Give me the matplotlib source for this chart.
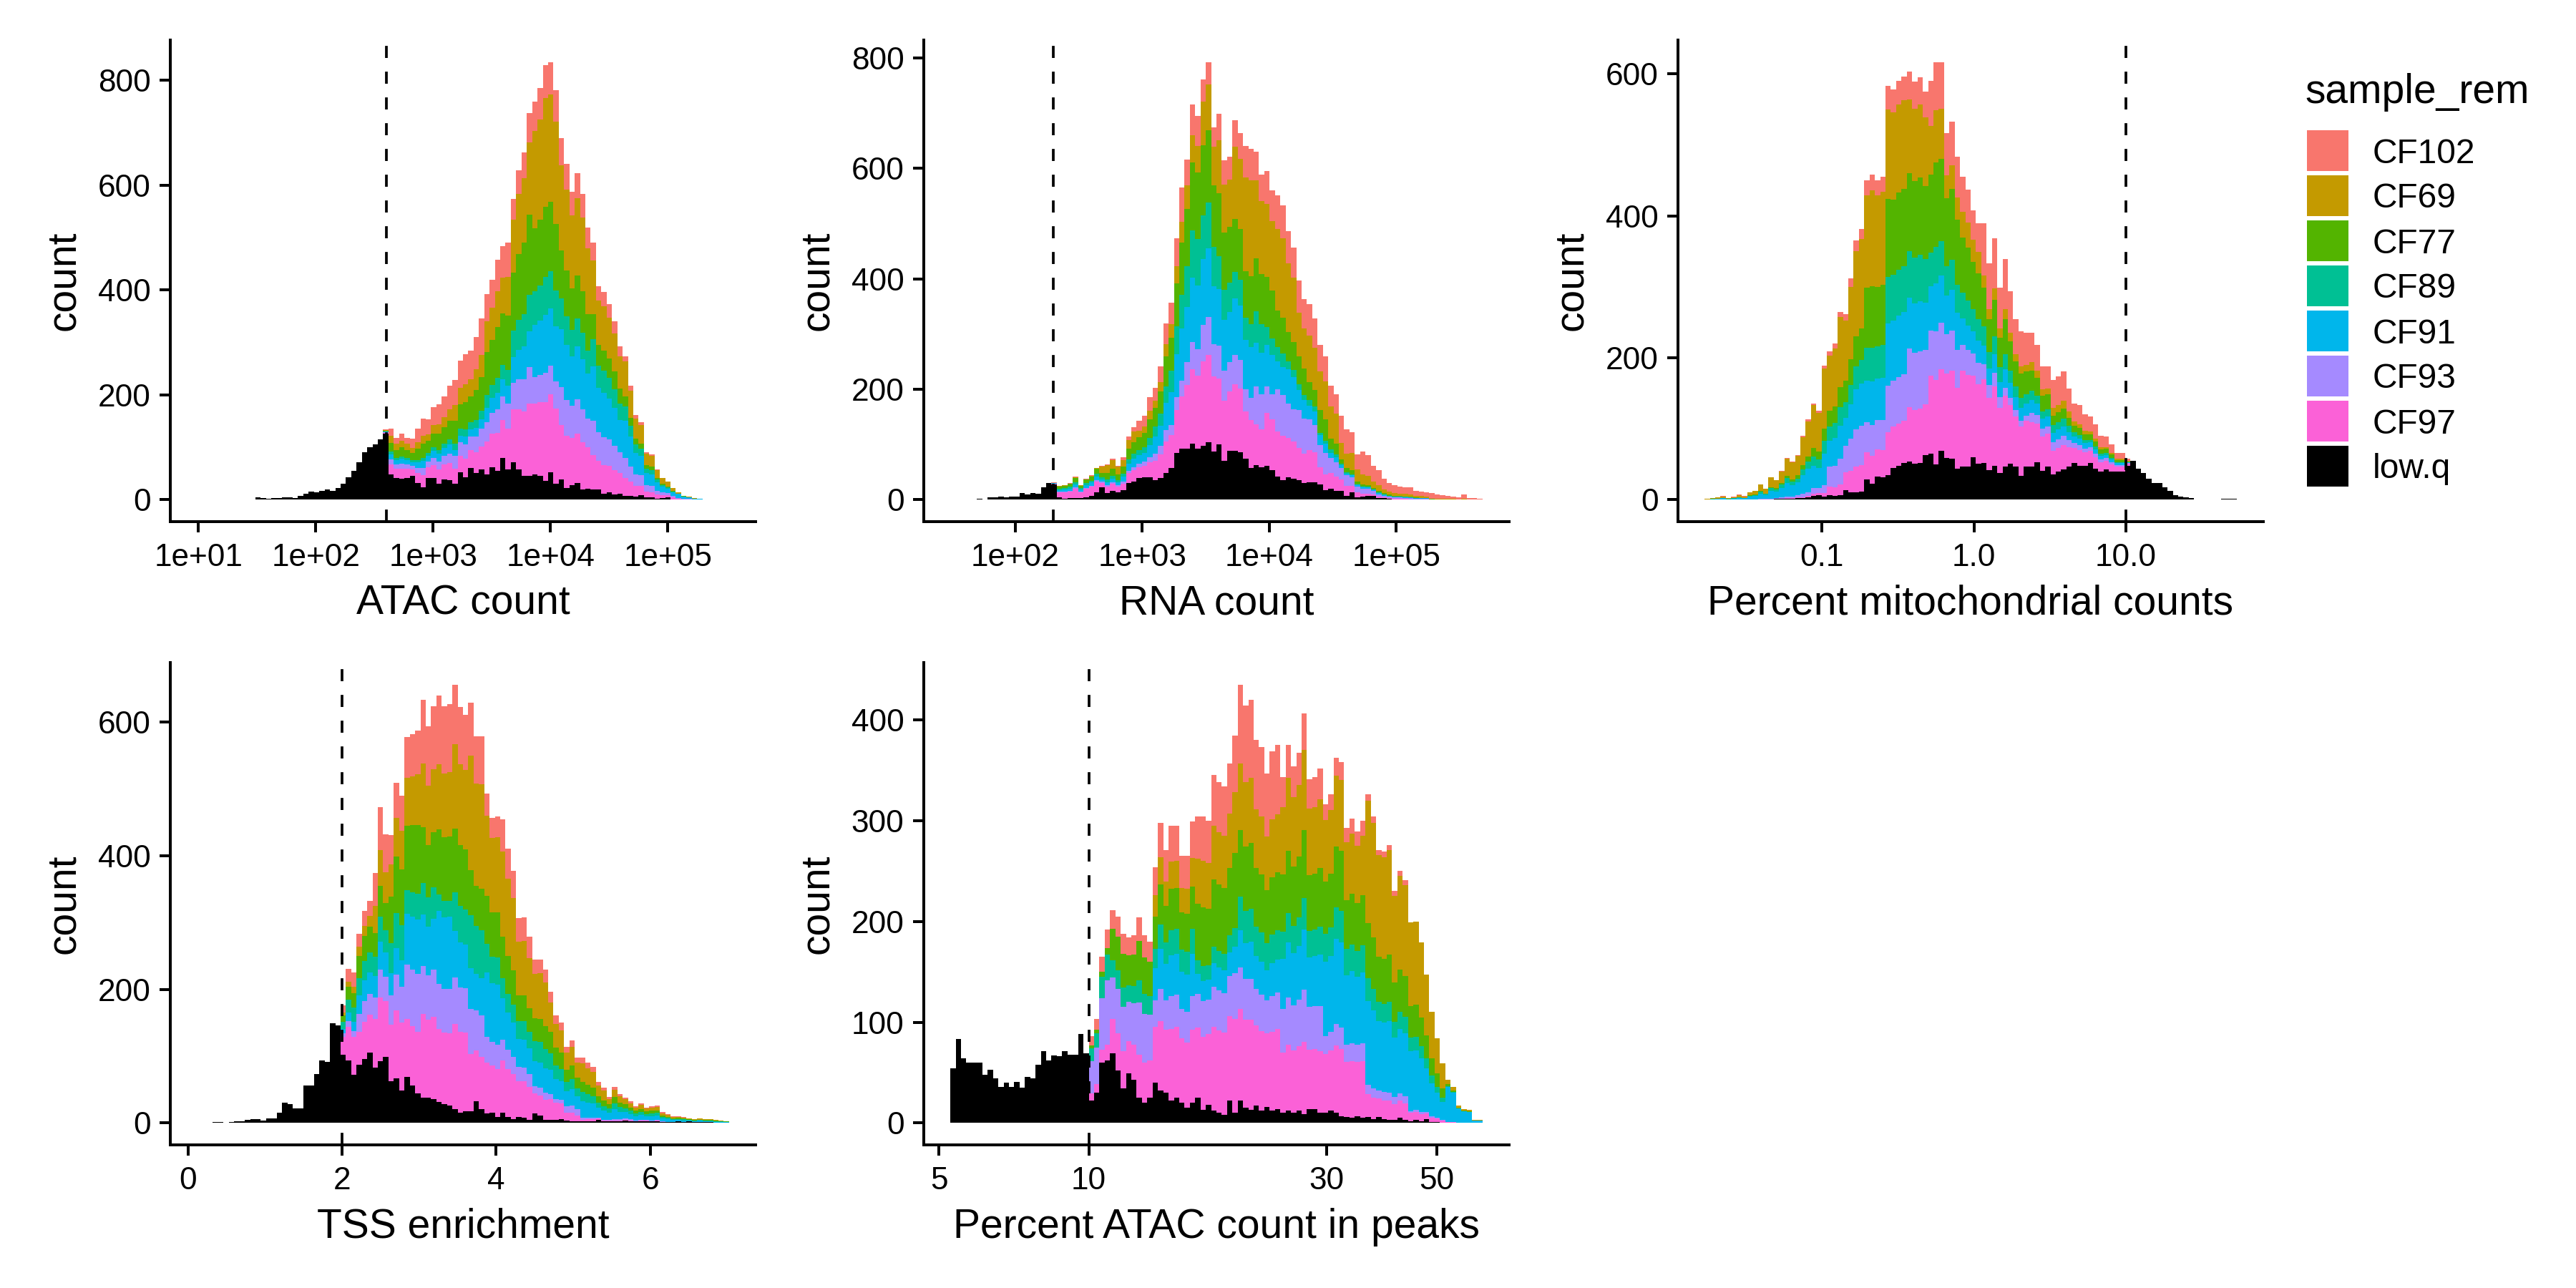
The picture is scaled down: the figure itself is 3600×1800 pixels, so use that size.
import numpy as np
import matplotlib
matplotlib.use("Agg")
import matplotlib.pyplot as plt
from matplotlib.patches import Rectangle
from matplotlib.ticker import NullLocator

plt.rcParams['font.family'] = ['Liberation Sans', 'DejaVu Sans']

# ---------------- categories ----------------
samples = ["CF102", "CF69", "CF77", "CF89", "CF91", "CF93", "CF97", "low.q"]
sample_colors = ["#F8766D", "#C49A00", "#53B400", "#00C094", "#00B6EB",
                 "#A58AFF", "#FB61D7", "#000000"]

# ---------------- ATAC count (log10 bins) ----------------
atac_centers = (1.01, 5.50)          # log10 of first / last bin centre
atac_threshold = 400
atac_total = [1, 0, 0, 0, 0, 0, 0, 0, 1, 1,
              0, 4, 3, 2, 3, 3, 4, 4, 3, 7,
              12, 15, 14, 17, 20, 17, 22, 30, 43, 55,
              72, 90, 100, 105, 115, 134, 135, 118, 126, 118,
              116, 135, 155, 153, 176, 182, 197, 218, 228, 265,
              277, 284, 311, 346, 392, 420, 458, 484, 490, 574,
              629, 663, 737, 760, 785, 829, 835, 781, 690, 641,
              587, 623, 584, 519, 490, 407, 396, 373, 340, 293,
              274, 217, 161, 148, 91, 87, 58, 42, 35, 23,
              14, 8, 6, 3, 2, 1, 1, 1, 1, 1]
atac_lowq = [1, 0, 0, 0, 0, 0, 0, 0, 1, 1,
             0, 4, 3, 2, 3, 3, 4, 4, 3, 7,
             12, 15, 14, 17, 20, 17, 22, 30, 43, 55,
             72, 90, 100, 105, 115, 126, 48, 42, 40, 42,
             45, 32, 24, 42, 42, 30, 39, 37, 30, 52,
             43, 61, 51, 58, 49, 62, 55, 80, 58, 72,
             58, 45, 45, 49, 46, 36, 52, 31, 39, 23,
             28, 32, 20, 21, 19, 20, 12, 14, 10, 12,
             7, 7, 6, 9, 4, 4, 2, 3, 4, 1,
             1, 0, 0, 0, 0, 0, 0, 0, 0, 0]
atac_zone_start = [0, 35, 40, 48, 54, 59, 63, 68, 74, 80, 86, 90]
# shares of the non-low.q cells: CF102, CF69, CF77, CF89, CF91, CF93, CF97
atac_zone_share = [[0.15, 0.15, 0.20, 0.05, 0.12, 0.10, 0.23],
                   [0.15, 0.15, 0.20, 0.05, 0.12, 0.10, 0.23],
                   [0.25, 0.12, 0.20, 0.05, 0.10, 0.10, 0.18],
                   [0.24, 0.15, 0.22, 0.06, 0.06, 0.12, 0.15],
                   [0.15, 0.17, 0.24, 0.07, 0.08, 0.11, 0.18],
                   [0.08, 0.20, 0.22, 0.10, 0.10, 0.10, 0.20],
                   [0.08, 0.26, 0.17, 0.09, 0.14, 0.07, 0.19],
                   [0.08, 0.25, 0.14, 0.09, 0.17, 0.11, 0.16],
                   [0.07, 0.22, 0.10, 0.11, 0.22, 0.14, 0.14],
                   [0.04, 0.25, 0.07, 0.10, 0.27, 0.14, 0.13],
                   [0.02, 0.28, 0.05, 0.08, 0.30, 0.12, 0.15],
                   [0.00, 0.15, 0.03, 0.05, 0.55, 0.12, 0.10]]

# ---------------- RNA count (log10 bins) ----------------
rna_centers = (1.51, 5.658)
rna_threshold = 200
rna_total = [1, 0, 0, 0, 1, 2, 1, 4, 5, 6,
             5, 6, 6, 12, 10, 12, 11, 23, 30, 31,
             25, 27, 30, 42, 27, 38, 44, 58, 61, 64,
             74, 61, 77, 115, 131, 143, 152, 186, 203, 241,
             320, 357, 474, 565, 616, 716, 695, 761, 793, 675,
             699, 615, 622, 688, 664, 641, 636, 630, 589, 595,
             561, 552, 533, 486, 457, 397, 364, 355, 329, 281,
             260, 206, 191, 152, 127, 123, 82, 88, 81, 61,
             54, 38, 30, 27, 24, 22, 22, 16, 15, 14,
             12, 10, 8, 7, 6, 4, 9, 3, 3, 2]
rna_lowq = [1, 0, 0, 0, 1, 2, 1, 4, 5, 6,
            5, 6, 6, 12, 10, 12, 11, 23, 30, 28,
            4, 2, 3, 3, 3, 5, 7, 13, 22, 12,
            16, 13, 17, 30, 33, 39, 41, 41, 35, 40,
            48, 57, 85, 93, 93, 101, 92, 98, 104, 88,
            100, 70, 89, 89, 86, 75, 57, 63, 59, 62,
            54, 42, 36, 41, 38, 36, 30, 32, 32, 28,
            17, 20, 16, 16, 7, 13, 5, 6, 7, 7,
            3, 3, 2, 1, 1, 1, 0, 0, 0, 0,
            0, 0, 0, 0, 0, 0, 0, 0, 0, 0]
rna_zone_start = [0, 19, 28, 32, 35, 38, 41, 44, 47, 50, 53, 55, 57, 59, 61,
                  63, 65, 67, 69, 71, 73, 75, 77, 80, 90]
rna_zone_share = [[0.02, 0.03, 0.20, 0.10, 0.15, 0.05, 0.45],
                  [0.02, 0.03, 0.20, 0.10, 0.15, 0.05, 0.45],
                  [0.03, 0.28, 0.21, 0.10, 0.10, 0.05, 0.23],
                  [0.08, 0.19, 0.22, 0.09, 0.15, 0.06, 0.21],
                  [0.17, 0.11, 0.23, 0.09, 0.15, 0.06, 0.19],
                  [0.14, 0.08, 0.20, 0.11, 0.18, 0.08, 0.21],
                  [0.13, 0.08, 0.20, 0.13, 0.20, 0.06, 0.20],
                  [0.09, 0.08, 0.20, 0.14, 0.19, 0.08, 0.22],
                  [0.06, 0.12, 0.19, 0.12, 0.18, 0.10, 0.23],
                  [0.08, 0.16, 0.19, 0.10, 0.17, 0.10, 0.20],
                  [0.08, 0.22, 0.16, 0.08, 0.17, 0.09, 0.20],
                  [0.10, 0.30, 0.15, 0.07, 0.16, 0.07, 0.15],
                  [0.09, 0.25, 0.17, 0.10, 0.14, 0.12, 0.13],
                  [0.11, 0.25, 0.17, 0.06, 0.14, 0.09, 0.18],
                  [0.12, 0.29, 0.13, 0.05, 0.10, 0.15, 0.16],
                  [0.13, 0.28, 0.12, 0.03, 0.14, 0.14, 0.16],
                  [0.16, 0.22, 0.14, 0.03, 0.10, 0.19, 0.16],
                  [0.18, 0.26, 0.10, 0.03, 0.08, 0.17, 0.18],
                  [0.19, 0.28, 0.16, 0.02, 0.07, 0.16, 0.12],
                  [0.20, 0.31, 0.11, 0.03, 0.05, 0.15, 0.15],
                  [0.36, 0.22, 0.06, 0.02, 0.03, 0.16, 0.15],
                  [0.35, 0.28, 0.07, 0.01, 0.04, 0.14, 0.11],
                  [0.51, 0.22, 0.05, 0.01, 0.04, 0.11, 0.06],
                  [0.55, 0.20, 0.05, 0.02, 0.05, 0.08, 0.05],
                  [0.80, 0.10, 0.02, 0.00, 0.04, 0.04, 0.00]]

# ---------------- Percent mitochondrial counts (log10 bins) ----------------
mito_centers = (-1.7545, 1.7115)
mito_threshold = 10
mito_total = [1, 2, 3, 5, 2, 4, 7, 5, 11, 13,
              22, 16, 32, 28, 41, 59, 54, 63, 90, 113,
              136, 125, 189, 209, 220, 265, 262, 312, 365, 382,
              450, 458, 450, 455, 583, 578, 590, 596, 603, 589,
              595, 575, 590, 617, 617, 517, 533, 483, 455, 437,
              408, 390, 390, 333, 368, 299, 339, 294, 255, 237,
              235, 235, 218, 188, 188, 169, 174, 181, 157, 136,
              134, 120, 117, 106, 90, 89, 78, 66, 66, 58,
              55, 44, 38, 30, 24, 24, 18, 13, 6, 4,
              3, 2, 0, 0, 0, 0, 0, 1, 1, 1]
mito_lowq = [0, 0, 0, 0, 0, 0, 0, 0, 0, 0,
             0, 0, 0, 1, 1, 1, 1, 2, 2, 3,
             5, 6, 4, 6, 5, 6, 14, 11, 11, 12,
             29, 23, 33, 32, 35, 45, 48, 52, 54, 51,
             52, 63, 65, 50, 69, 59, 58, 44, 47, 47,
             60, 51, 52, 42, 48, 38, 47, 51, 47, 34,
             47, 47, 53, 41, 47, 36, 40, 43, 47, 52,
             48, 48, 52, 44, 40, 43, 40, 40, 40, 48,
             55, 44, 38, 30, 24, 24, 18, 13, 6, 4,
             3, 2, 0, 0, 0, 0, 0, 1, 1, 1]
mito_zone_start = [0, 16, 20, 23, 26, 30, 34, 38, 42, 45, 48, 52, 56, 61, 65, 70, 80]
mito_zone_share = [[0.02, 0.42, 0.05, 0.12, 0.33, 0.04, 0.02],
                   [0.02, 0.45, 0.07, 0.09, 0.30, 0.05, 0.02],
                   [0.02, 0.46, 0.09, 0.10, 0.24, 0.06, 0.03],
                   [0.03, 0.38, 0.11, 0.10, 0.18, 0.14, 0.06],
                   [0.04, 0.34, 0.12, 0.09, 0.16, 0.15, 0.10],
                   [0.05, 0.31, 0.20, 0.11, 0.14, 0.10, 0.09],
                   [0.06, 0.23, 0.20, 0.12, 0.16, 0.12, 0.11],
                   [0.07, 0.19, 0.20, 0.12, 0.13, 0.15, 0.14],
                   [0.12, 0.13, 0.21, 0.09, 0.12, 0.12, 0.21],
                   [0.13, 0.07, 0.21, 0.09, 0.12, 0.12, 0.26],
                   [0.12, 0.09, 0.19, 0.09, 0.09, 0.09, 0.33],
                   [0.22, 0.05, 0.16, 0.08, 0.08, 0.06, 0.35],
                   [0.24, 0.05, 0.17, 0.07, 0.09, 0.04, 0.34],
                   [0.22, 0.06, 0.15, 0.07, 0.10, 0.07, 0.33],
                   [0.30, 0.08, 0.10, 0.08, 0.10, 0.09, 0.25],
                   [0.32, 0.06, 0.12, 0.06, 0.10, 0.08, 0.26],
                   [0.32, 0.06, 0.12, 0.06, 0.10, 0.08, 0.26]]

# ---------------- TSS enrichment (linear bins) ----------------
tss_centers = (0.151, 6.986)
tss_threshold = 2
tss_total = [0, 0, 0, 1, 1, 0, 1, 2, 3, 5,
             6, 6, 4, 7, 7, 15, 30, 28, 22, 22,
             56, 56, 73, 94, 91, 149, 146, 176, 231, 225,
             283, 317, 332, 374, 473, 432, 431, 509, 490, 577,
             582, 587, 633, 593, 623, 640, 624, 627, 656, 622,
             611, 629, 579, 579, 493, 457, 459, 454, 410, 377,
             307, 308, 279, 244, 245, 230, 196, 161, 150, 114,
             123, 98, 98, 90, 84, 61, 53, 39, 54, 43,
             38, 32, 25, 29, 23, 25, 26, 16, 13, 10,
             10, 9, 7, 6, 7, 6, 6, 5, 4, 3]
tss_lowq = [0, 0, 0, 1, 1, 0, 1, 2, 3, 5,
            6, 6, 4, 7, 7, 15, 30, 28, 22, 22,
            56, 56, 73, 94, 91, 149, 146, 102, 93, 72,
            87, 96, 105, 83, 92, 99, 62, 67, 49, 69,
            56, 44, 38, 38, 36, 31, 28, 26, 21, 15,
            17, 18, 32, 21, 14, 15, 9, 15, 9, 6,
            9, 8, 5, 14, 11, 5, 5, 5, 6, 4,
            3, 2, 2, 3, 3, 5, 2, 2, 2, 2,
            4, 3, 2, 3, 3, 2, 3, 1, 1, 1,
            2, 1, 2, 1, 1, 1, 1, 0, 0, 0]
tss_zone_start = [0, 27, 30, 33, 36, 39, 42, 45, 48, 51, 54, 57, 60, 63, 66, 69, 72, 77]
tss_zone_share = [[0.14, 0.06, 0.14, 0.14, 0.09, 0.06, 0.37],
                  [0.14, 0.06, 0.14, 0.14, 0.09, 0.06, 0.37],
                  [0.10, 0.07, 0.17, 0.13, 0.14, 0.14, 0.25],
                  [0.17, 0.14, 0.12, 0.10, 0.11, 0.11, 0.25],
                  [0.12, 0.13, 0.19, 0.12, 0.09, 0.12, 0.23],
                  [0.12, 0.14, 0.19, 0.07, 0.15, 0.16, 0.17],
                  [0.16, 0.16, 0.14, 0.08, 0.13, 0.12, 0.21],
                  [0.17, 0.16, 0.16, 0.04, 0.18, 0.11, 0.18],
                  [0.14, 0.20, 0.15, 0.09, 0.11, 0.11, 0.20],
                  [0.13, 0.28, 0.11, 0.13, 0.10, 0.11, 0.14],
                  [0.07, 0.25, 0.15, 0.09, 0.20, 0.08, 0.16],
                  [0.11, 0.29, 0.14, 0.07, 0.14, 0.07, 0.18],
                  [0.12, 0.27, 0.13, 0.09, 0.14, 0.07, 0.18],
                  [0.09, 0.29, 0.15, 0.13, 0.16, 0.05, 0.13],
                  [0.08, 0.23, 0.17, 0.13, 0.19, 0.04, 0.16],
                  [0.08, 0.23, 0.17, 0.12, 0.21, 0.09, 0.10],
                  [0.09, 0.29, 0.16, 0.14, 0.26, 0.03, 0.03],
                  [0.08, 0.22, 0.17, 0.17, 0.28, 0.05, 0.03]]

# ---------------- Percent ATAC count in peaks (log10 bins) ----------------
peaks_centers = (0.7273, 1.7856)
peaks_threshold = 10
peaks_total = [54, 83, 64, 60, 60, 60, 48, 53, 44, 36,
               40, 36, 41, 35, 46, 44, 58, 71, 62, 67,
               66, 71, 68, 68, 88, 69, 86, 103, 165, 192,
               211, 205, 188, 184, 186, 204, 186, 180, 254, 298,
               271, 295, 295, 265, 265, 299, 304, 304, 300, 345,
               338, 334, 357, 384, 435, 414, 420, 380, 373, 347,
               369, 375, 343, 375, 354, 367, 406, 341, 343, 352,
               316, 326, 362, 358, 293, 302, 289, 300, 326, 304,
               271, 269, 276, 230, 250, 241, 199, 200, 179, 147,
               110, 84, 59, 43, 36, 17, 14, 13, 3, 3]
peaks_lowq = [54, 83, 64, 60, 60, 60, 48, 53, 44, 36,
              40, 36, 41, 35, 46, 44, 58, 71, 62, 67,
              66, 71, 68, 68, 88, 69, 22, 30, 60, 62,
              69, 52, 34, 49, 43, 25, 20, 25, 40, 32,
              30, 22, 25, 20, 15, 20, 25, 13, 18, 12,
              10, 8, 22, 10, 22, 15, 13, 17, 12, 16,
              12, 14, 10, 12, 10, 12, 9, 14, 14, 10,
              10, 12, 10, 7, 6, 5, 7, 5, 6, 4,
              6, 4, 3, 3, 5, 3, 2, 3, 2, 4,
              1, 1, 0, 0, 0, 0, 0, 0, 0, 0]
peaks_zone_start = [0, 26, 30, 38, 46, 54, 62, 70, 78, 86, 93]
peaks_zone_share = [[0.14, 0.00, 0.05, 0.20, 0.00, 0.49, 0.12],
                    [0.14, 0.00, 0.05, 0.20, 0.00, 0.49, 0.12],
                    [0.13, 0.00, 0.22, 0.12, 0.00, 0.29, 0.24],
                    [0.13, 0.10, 0.15, 0.09, 0.15, 0.12, 0.26],
                    [0.15, 0.16, 0.20, 0.05, 0.07, 0.12, 0.25],
                    [0.19, 0.16, 0.16, 0.08, 0.09, 0.10, 0.22],
                    [0.09, 0.20, 0.17, 0.08, 0.15, 0.13, 0.18],
                    [0.05, 0.20, 0.17, 0.09, 0.24, 0.06, 0.19],
                    [0.02, 0.38, 0.17, 0.07, 0.26, 0.03, 0.07],
                    [0.00, 0.42, 0.16, 0.07, 0.30, 0.01, 0.04],
                    [0.00, 0.10, 0.05, 0.02, 0.80, 0.00, 0.03]]

# ---------------- layout ----------------
W, H = 3600, 1800
fig = plt.figure(figsize=(12, 6), dpi=300)

COL_LEFT = [238, 1291, 2345]
PANEL_W = 818
ROW_TOP = [56, 926]
PANEL_H = [673, 674]
TICK_FS = 10.6
TITLE_FS = 13.7
AX_LW = 0.96


def px_axes(col, row):
    left, top, h = COL_LEFT[col], ROW_TOP[row], PANEL_H[row]
    return fig.add_axes([left / W, 1 - (top + h) / H, PANEL_W / W, h / H])


def split_layers(total, lowq, zstart, zshare):
    total = np.asarray(total, float)
    lowq = np.asarray(lowq, float)
    colored = np.clip(total - lowq, 0, None)
    zone = np.searchsorted(zstart, np.arange(len(total)), side='right') - 1
    share = np.asarray(zshare, float)[zone]
    share = share / share.sum(axis=1, keepdims=True)
    return colored[:, None] * share, lowq


def draw_panel(ax, total, lowq, zstart, zshare, centers, log, thr,
               xticks, xticklabels, yticks, xlabel):
    total = np.asarray(total, float)
    n = len(total)
    lo, hi = centers
    w = (hi - lo) / (n - 1)
    et = lo - w / 2 + w * np.arange(n + 1)
    edges = 10 ** et if log else et
    if log:
        ax.set_xscale('log')
    layers, low = split_layers(total, lowq, zstart, zshare)
    stack = [(low, sample_colors[7])] + [(layers[:, k], sample_colors[k])
                                         for k in range(6, -1, -1)]
    bottom = np.zeros(n)
    for h, c in stack:
        ax.bar(edges[:-1], h, width=np.diff(edges), bottom=bottom,
               align='edge', color=c, linewidth=0, edgecolor='none')
        bottom = bottom + h
    ax.axvline(thr, color='black', lw=0.9, dashes=(4.5, 5.1), zorder=5)
    r = et[-1] - et[0]
    xl = np.array([et[0] - 0.05 * r, et[-1] + 0.05 * r])
    ax.set_xlim(*(10 ** xl if log else xl))
    M = total.max()
    ax.set_ylim(-0.05 * M, 1.05 * M)
    ax.set_xticks(xticks)
    ax.set_xticklabels(xticklabels)
    ax.xaxis.set_minor_locator(NullLocator())
    ax.set_yticks(yticks)
    ax.set_yticklabels([str(v) for v in yticks])
    for s in ('top', 'right'):
        ax.spines[s].set_visible(False)
    for s in ('left', 'bottom'):
        ax.spines[s].set_linewidth(AX_LW)
        ax.spines[s].set_color('black')
    ax.tick_params(axis='both', length=3.6, width=AX_LW, color='black',
                   labelsize=TICK_FS, labelcolor='black')
    ax.tick_params(axis='x', pad=3.6)
    ax.tick_params(axis='y', pad=3.0)
    ax.set_xlabel(xlabel, fontsize=TITLE_FS, va='baseline')
    ax.set_ylabel('count', fontsize=TITLE_FS, va='baseline')
    ph = ax.get_position().height * H
    ax.xaxis.set_label_coords(0.5, -129.5 / ph)
    ax.yaxis.set_label_coords(-134 / PANEL_W, 0.5)


draw_panel(px_axes(0, 0), atac_total, atac_lowq, atac_zone_start, atac_zone_share,
           atac_centers, True, atac_threshold,
           [1e1, 1e2, 1e3, 1e4, 1e5], ["1e+01", "1e+02", "1e+03", "1e+04", "1e+05"],
           [0, 200, 400, 600, 800], "ATAC count")
draw_panel(px_axes(1, 0), rna_total, rna_lowq, rna_zone_start, rna_zone_share,
           rna_centers, True, rna_threshold,
           [1e2, 1e3, 1e4, 1e5], ["1e+02", "1e+03", "1e+04", "1e+05"],
           [0, 200, 400, 600, 800], "RNA count")
draw_panel(px_axes(2, 0), mito_total, mito_lowq, mito_zone_start, mito_zone_share,
           mito_centers, True, mito_threshold,
           [0.1, 1, 10], ["0.1", "1.0", "10.0"],
           [0, 200, 400, 600], "Percent mitochondrial counts")
draw_panel(px_axes(0, 1), tss_total, tss_lowq, tss_zone_start, tss_zone_share,
           tss_centers, False, tss_threshold,
           [0, 2, 4, 6], ["0", "2", "4", "6"],
           [0, 200, 400, 600], "TSS enrichment")
draw_panel(px_axes(1, 1), peaks_total, peaks_lowq, peaks_zone_start, peaks_zone_share,
           peaks_centers, True, peaks_threshold,
           [5, 10, 30, 50], ["5", "10", "30", "50"],
           [0, 100, 200, 300, 400], "Percent ATAC count in peaks")

# ---------------- legend ----------------
KEY_L, KEY_W, KEY_H, KEY_TOP0, KEY_PITCH = 3224, 58, 57, 182, 63
LEG_FS = 11.5
for k, (name, c) in enumerate(zip(samples, sample_colors)):
    top = KEY_TOP0 + k * KEY_PITCH
    fig.add_artist(Rectangle((KEY_L / W, 1 - (top + KEY_H) / H), KEY_W / W, KEY_H / H,
                             transform=fig.transFigure, facecolor=c, edgecolor='none'))
    fig.text(3316 / W, 1 - (top + KEY_H / 2 + 17) / H, name, fontsize=LEG_FS,
             va='baseline', ha='left', color='black')
fig.text(3221 / W, 1 - 144 / H, "sample_rem", fontsize=TITLE_FS,
         va='baseline', ha='left', color='black')

fig.savefig("out.png", dpi=300, facecolor='white')
